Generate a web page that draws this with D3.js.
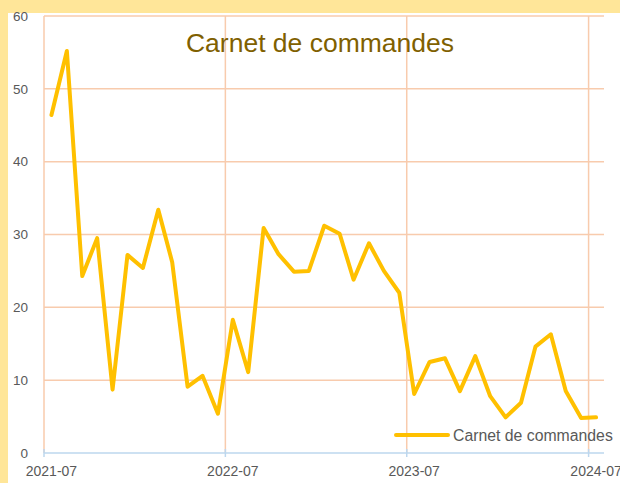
<!DOCTYPE html>
<html>
<head>
<meta charset="utf-8">
<script src="https://cdn.jsdelivr.net/npm/d3@7"></script>
<style>
  body { margin: 0; background: #ffe699; }
  #chart { width: 620px; height: 483px; }
</style>
</head>
<body>
<div id="chart"></div>
<script>
// monthly values, 2021-07 .. 2024-07
const months = [
  "2021-07","2021-08","2021-09","2021-10","2021-11","2021-12",
  "2022-01","2022-02","2022-03","2022-04","2022-05","2022-06",
  "2022-07","2022-08","2022-09","2022-10","2022-11","2022-12",
  "2023-01","2023-02","2023-03","2023-04","2023-05","2023-06",
  "2023-07","2023-08","2023-09","2023-10","2023-11","2023-12",
  "2024-01","2024-02","2024-03","2024-04","2024-05","2024-06",
  "2024-07"
];
const carnet = [
  46.4, 55.2, 24.3, 29.5, 8.7, 27.2,
  25.4, 33.4, 26.2, 9.1, 10.6, 5.4,
  18.3, 11.1, 30.9, 27.3, 24.9, 25.0,
  31.2, 30.1, 23.8, 28.8, 25.0, 22.0,
  8.1, 12.5, 13.0, 8.5, 13.3, 7.8,
  4.9, 6.9, 14.6, 16.3, 8.5, 4.8,
  4.9
];
const xTicks = ["2021-07", "2022-07", "2023-07", "2024-07"];
const yTicks = [0, 10, 20, 30, 40, 50, 60];
const title = "Carnet de commandes";

const parse = d3.timeParse("%Y-%m");
const midMonth = m => { const d = parse(m); return new Date(d.getFullYear(), d.getMonth(), 16); };
const data = months.map((m, i) => ({ date: midMonth(m), value: carnet[i] }));

const W = 620, H = 483;
const margin = { top: 16, right: 16, bottom: 30, left: 44 };

const svg = d3.select("#chart").append("svg")
  .attr("width", W).attr("height", H);

// white chart area over the yellow frame
svg.append("rect")
  .attr("x", 8).attr("y", 13)
  .attr("width", W - 8).attr("height", H - 13)
  .attr("fill", "#ffffff");

const x = d3.scaleTime()
  .domain([parse("2021-07"), parse("2024-08")])
  .range([margin.left, W - margin.right]);

const y = d3.scaleLinear()
  .domain([0, 60])
  .range([H - margin.bottom, margin.top]);

const grid = "#f8cbad";

// horizontal grid
svg.append("g")
  .selectAll("line")
  .data(yTicks.filter(d => d > 0))
  .join("line")
  .attr("x1", margin.left).attr("x2", W - margin.right)
  .attr("y1", d => y(d)).attr("y2", d => y(d))
  .attr("stroke", grid).attr("stroke-width", 1.5);

// vertical grid
svg.append("g")
  .selectAll("line")
  .data(xTicks)
  .join("line")
  .attr("x1", d => x(parse(d))).attr("x2", d => x(parse(d)))
  .attr("y1", y(60)).attr("y2", y(0))
  .attr("stroke", grid).attr("stroke-width", 1.5);

// x axis line
svg.append("line")
  .attr("x1", margin.left).attr("x2", W - margin.right)
  .attr("y1", y(0)).attr("y2", y(0))
  .attr("stroke", "#bdd7ee").attr("stroke-width", 1.5);

svg.append("g")
  .selectAll("line")
  .data(xTicks)
  .join("line")
  .attr("x1", d => x(parse(d))).attr("x2", d => x(parse(d)))
  .attr("y1", y(0) - 4).attr("y2", y(0) + 4)
  .attr("stroke", "#bdd7ee").attr("stroke-width", 1.5);

// tick labels
svg.append("g")
  .selectAll("text")
  .data(yTicks)
  .join("text")
  .attr("x", 28).attr("y", d => y(d))
  .attr("dy", "0.35em")
  .attr("text-anchor", "end")
  .style("font-family", "'Liberation Sans', Arial, sans-serif")
  .style("font-size", "13.5px")
  .attr("fill", "#595959")
  .text(d => d);

// month labels sit under the middle of their month
svg.append("g")
  .selectAll("text")
  .data(xTicks)
  .join("text")
  .attr("x", d => x(midMonth(d))).attr("y", 476)
  .attr("text-anchor", "middle")
  .style("font-family", "'Liberation Sans', Arial, sans-serif")
  .style("font-size", "14px")
  .attr("fill", "#595959")
  .text(d => d);

// line
const line = d3.line()
  .x(d => x(d.date))
  .y(d => y(d.value));

svg.append("path")
  .datum(data)
  .attr("fill", "none")
  .attr("stroke", "#ffc000")
  .attr("stroke-width", 4)
  .attr("stroke-linejoin", "round")
  .attr("stroke-linecap", "round")
  .attr("d", line);

// title
svg.append("text")
  .attr("x", 320).attr("y", 52)
  .attr("text-anchor", "middle")
  .style("font-family", "'Liberation Sans', Arial, sans-serif")
  .style("font-size", "26.5px")
  .attr("fill", "#7f6000")
  .text(title);

// legend
const legend = svg.append("g").attr("transform", "translate(396, 435)");
legend.append("line")
  .attr("x1", 0).attr("x2", 52)
  .attr("stroke", "#ffc000").attr("stroke-width", 4)
  .attr("stroke-linecap", "round");
legend.append("text")
  .attr("x", 57).attr("dy", "0.35em")
  .style("font-family", "'Liberation Sans', Arial, sans-serif")
  .style("font-size", "15.8px")
  .attr("fill", "#595959")
  .text(title);
</script>
</body>
</html>
